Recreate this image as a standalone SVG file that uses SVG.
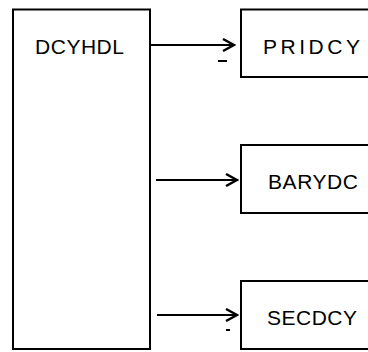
<svg xmlns="http://www.w3.org/2000/svg" width="368" height="352" viewBox="0 0 368 352">
<defs>
<style>
.box{fill:#fff;stroke:#000;stroke-width:2}
.lbl{font-family:"Liberation Sans",Arial,sans-serif;font-size:21px;fill:#000}
.con{stroke:#000;stroke-width:2;fill:none}
</style>
<marker id="ah" markerWidth="14" markerHeight="14" refX="12" refY="7" orient="auto" markerUnits="userSpaceOnUse">
<path d="M1,1 L12,7 L1,13" fill="none" stroke="#000" stroke-width="2.4"/>
</marker>
</defs>
<rect width="368" height="352" fill="#fff"/>
<g id="DCYHDL">
<rect class="box" x="13" y="9.5" width="137" height="339.5"/>
<text class="lbl" x="35" y="54" textLength="89" lengthAdjust="spacing">DCYHDL</text>
</g>
<g id="PRIDCY">
<rect class="box" x="241" y="9.5" width="140" height="67.5"/>
<text class="lbl" x="263" y="54" textLength="97" lengthAdjust="spacing">PRIDCY</text>
</g>
<g id="BARYDC">
<rect class="box" x="241" y="145" width="140" height="68"/>
<text class="lbl" x="268" y="189" textLength="90" lengthAdjust="spacing">BARYDC</text>
</g>
<g id="SECDCY">
<rect class="box" x="241" y="281" width="140" height="68"/>
<text class="lbl" x="267" y="325" textLength="90" lengthAdjust="spacing">SECDCY</text>
</g>
<g id="connectors">
<line class="con" x1="151" y1="45" x2="234" y2="45" marker-end="url(#ah)"/>
<line class="con" x1="156" y1="180" x2="237" y2="180" marker-end="url(#ah)"/>
<line class="con" x1="157" y1="315" x2="237" y2="315" marker-end="url(#ah)"/>
<line class="con" x1="218" y1="61" x2="227" y2="61"/>
<line class="con" x1="226" y1="330" x2="230" y2="330"/>
</g>
</svg>
